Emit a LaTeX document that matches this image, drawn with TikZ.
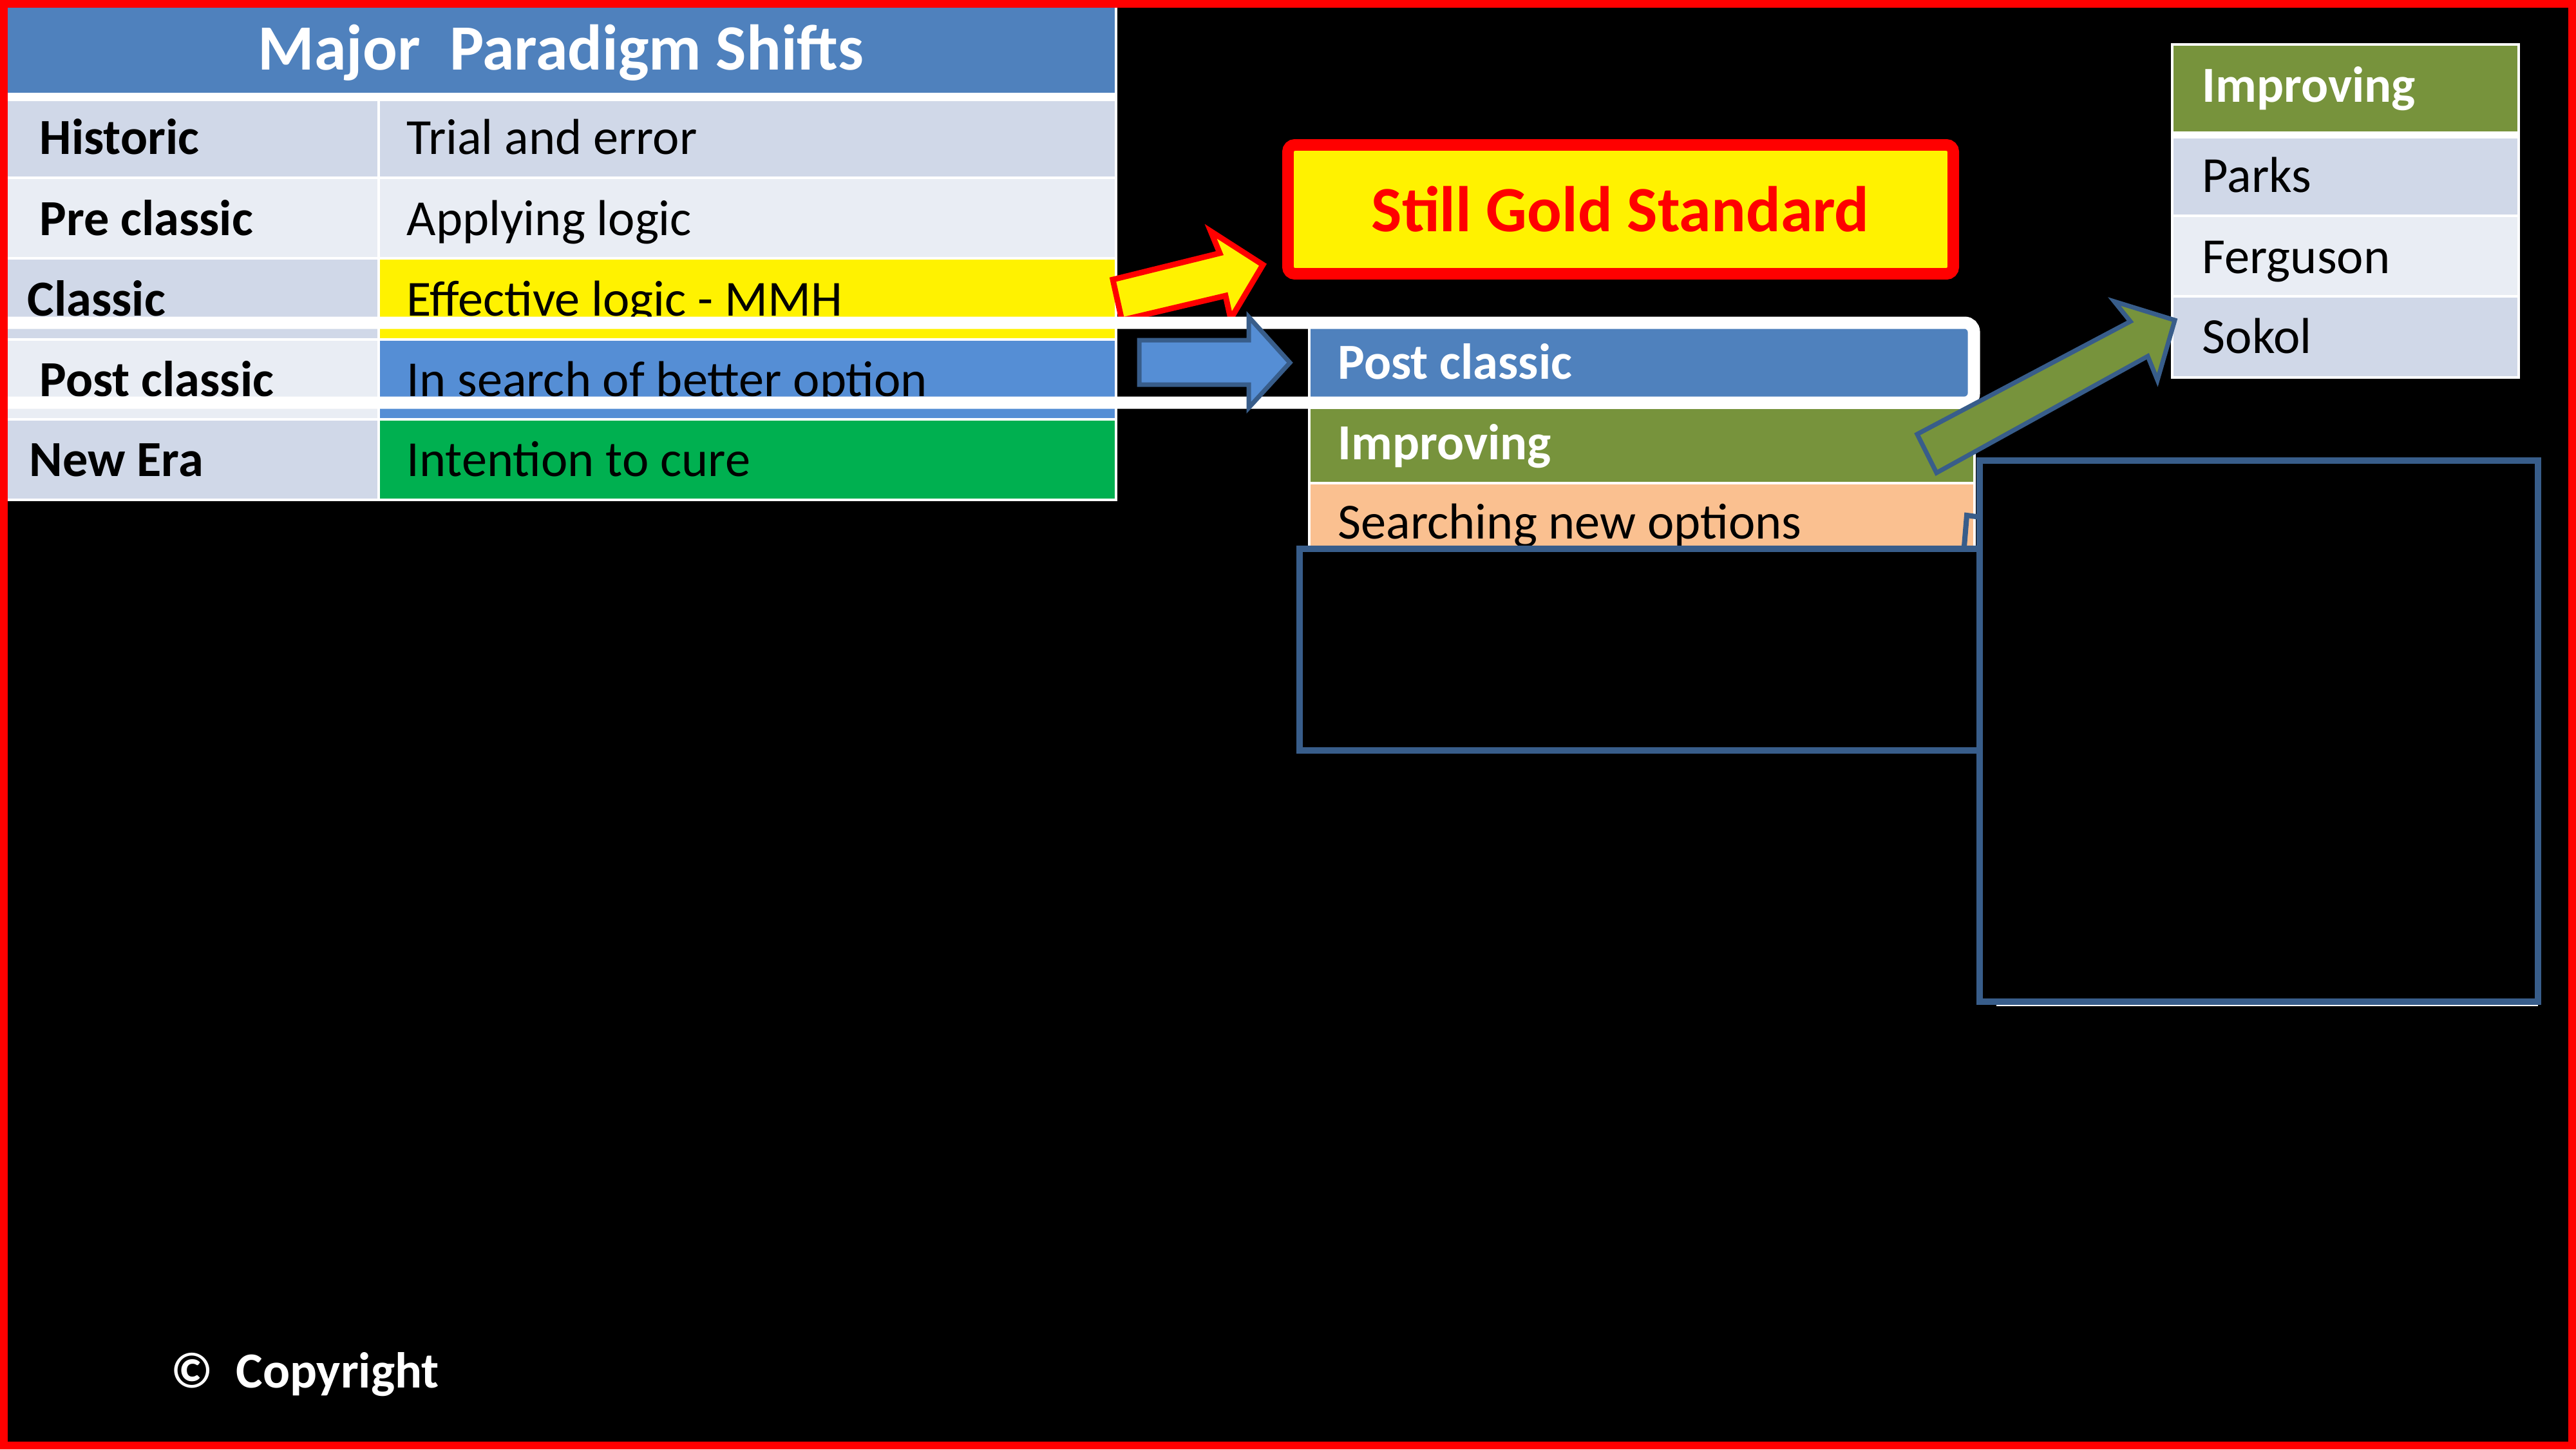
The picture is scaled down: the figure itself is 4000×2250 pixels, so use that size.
\documentclass[tikz,border=0pt]{standalone}
\usepackage{fontspec}
\setmainfont{Carlito}
\definecolor{hdrblue}{HTML}{4F81BD}
\definecolor{rowA}{HTML}{D0D8E8}
\definecolor{rowB}{HTML}{E9EDF4}
\definecolor{midblue}{HTML}{558ED5}
\definecolor{brightgreen}{HTML}{00B050}
\definecolor{olivegreen}{HTML}{77933C}
\definecolor{peach}{HTML}{FAC090}
\definecolor{outl}{HTML}{385D8A}
\begin{document}
\begin{tikzpicture}[x=0.01cm,y=-0.01cm,
  cell/.style={draw=white,line width=1.14pt},
  txt/.style={anchor=base west,inner sep=0pt,font=\fontsize{22.3}{26}\selectfont},
  txtb/.style={anchor=base west,inner sep=0pt,font=\fontsize{22.3}{26}\selectfont\bfseries},
  outlbox/.style={draw=outl,line width=2.85pt},
  blockarrow/.style={line width=2pt,line join=miter}]
\useasboundingbox (0,0) rectangle (4000,2250);
\fill[black] (0,0) rectangle (4000,2250);

% ---------- left table ----------
\path[cell,fill=hdrblue] (9,9) rectangle (1733,146);
\fill[white] (9,144) rectangle (1735,156);
\path[cell,fill=rowA] (9,155) rectangle (588,276);
\path[cell,fill=rowA] (588,155) rectangle (1733,276);
\path[cell,fill=rowB] (9,276) rectangle (588,401);
\path[cell,fill=rowB] (588,276) rectangle (1733,401);
\path[cell,fill=rowA] (9,401) rectangle (588,527);
\path[cell,fill=yellow] (588,401) rectangle (1733,527);
\path[cell,fill=rowB] (9,527) rectangle (588,651);
\path[cell,fill=midblue] (588,527) rectangle (1733,651);
\path[cell,fill=rowA] (9,651) rectangle (588,776);
\path[cell,fill=brightgreen] (588,651) rectangle (1733,776);

\node[anchor=base,inner sep=0pt,text=white,font=\fontsize{28.5}{33}\selectfont\bfseries] (title) at (871,108) {Major\ \ Paradigm Shifts};
\node[txtb] (hist) at (61,239) {Historic};
\node[txt] (histv) at (631,239) {Trial and error};
\node[txtb] (pre) at (61,365) {Pre classic};
\node[txt] (prev) at (631,365) {Applying logic};
\node[txtb] (cla) at (42,490) {Classic};
\node[txt] (clav) at (631,490) {Effective logic - MMH};
\node[txtb] (post) at (61,615) {Post classic};
\node[txt] (postv) at (631,615) {In search of better option};
\node[txtb] (newera) at (45,739) {New Era};
\node[txt] (newv) at (631,739) {Intention to cure};

% ---------- yellow arrow ----------
\draw[blockarrow,draw=red,line width=2.5pt,fill=yellow]
  (1728,434) -- (1894,393) -- (1880,359) -- (1961,411) -- (1911,495) -- (1903,459) -- (1742,497) -- cycle;

% ---------- middle table ----------
\path[cell,fill=hdrblue] (2033,505) rectangle (3064,633);
\path[cell,fill=olivegreen] (2033,633) rectangle (3066,750);
\path[cell,fill=peach] (2033,750) rectangle (3066,856);
\node[txtb,text=white] (mpost) at (2077,588) {Post classic};
\node[txtb,text=white] (mimp) at (2077,713) {Improving};
\node[txt] (msearch) at (2077,836) {Searching new options};

% ---------- white rounded frame ----------
\draw[white,line width=5.4pt,rounded corners=4pt] (-80,501) rectangle (3065,625);

% ---------- blue arrow ----------
\draw[blockarrow,draw=outl,fill=midblue]
  (1769,528) -- (1939,528) -- (1939,492) -- (2003,563) -- (1939,633) -- (1939,597) -- (1769,597) -- cycle;

% ---------- outlined boxes ----------
\draw[outlbox,fill=black] (2018,852) rectangle (3074,1165);
\fill[white] (3100,1557) rectangle (3941,1562);
\draw[outlbox,fill=black] (3074,715) rectangle (3941,1555);
\draw[outl,line width=2.3pt] (3050,848) -- (3054,800) -- (3076,803);

% ---------- Still Gold Standard ----------
\draw[red,line width=5.1pt,fill=yellow,rounded corners=3pt] (2000,225) rectangle (3033,425);
\node[anchor=base,inner sep=0pt,text=red,font=\fontsize{28.5}{33}\selectfont\bfseries] (gold) at (2516,359) {Still Gold Standard};

% ---------- right table ----------
\path[cell,fill=olivegreen] (3373,69) rectangle (3911,206);
\fill[white] (3371,204) rectangle (3913,214);
\path[cell,fill=rowA] (3373,213) rectangle (3911,335);
\path[cell,fill=rowB] (3373,335) rectangle (3911,460);
\path[cell,fill=rowA] (3373,460) rectangle (3911,586);
\node[txtb,text=white] (rimp) at (3419,158) {Improving};
\node[txt] (parks) at (3419,298) {Parks};
\node[txt] (ferg) at (3419,424) {Ferguson};
\node[txt] (sokol) at (3419,548) {Sokol};

% ---------- green arrow ----------
\draw[blockarrow,draw=outl,fill=olivegreen]
  (2977,674) -- (3308,499) -- (3283,468) -- (3377,497) -- (3350,590) -- (3335,553) -- (3007,734) -- cycle;

% ---------- copyright ----------
\node[txtb,text=white] (copy) at (265,2154) {©\ \ Copyright};

% ---------- red frame ----------
\draw[red,line width=3.4pt] (6,6) rectangle (3994,2244);
\end{tikzpicture}
\end{document}
